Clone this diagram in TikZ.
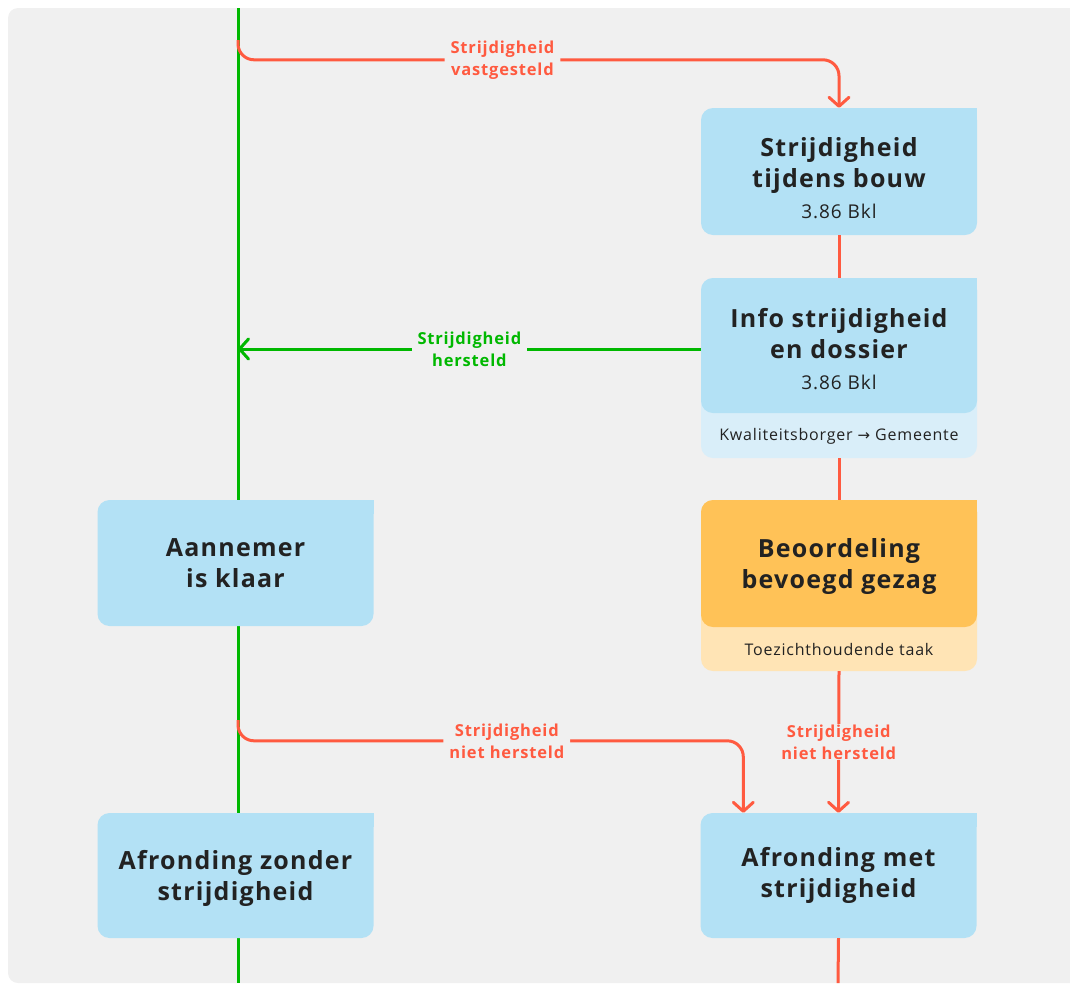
\documentclass[tikz,border=0pt]{standalone}
\usepackage{fontspec}
\setmainfont{Open Sans}[LetterSpace=5]
\newfontfamily\arrowfont{DejaVu Sans}
\usetikzlibrary{arrows.meta,calc}

\definecolor{bggray}{HTML}{F0F0F0}
\definecolor{boxblue}{HTML}{B3E1F5}
\definecolor{stripblue}{HTML}{D9EEF9}
\definecolor{boxorange}{HTML}{FFC257}
\definecolor{striporange}{HTML}{FFE4B5}
\definecolor{linered}{HTML}{FF5A40}
\definecolor{linegreen}{HTML}{00B800}
\definecolor{darktext}{HTML}{222222}

\tikzset{
  box/.style={rectangle, rounded corners=12pt, fill=boxblue, minimum width=276pt,
    inner sep=0pt, align=center, text=darktext, font=\bfseries\fontsize{25}{31}\selectfont},
  strip/.style={rectangle, rounded corners=12pt, minimum width=276pt, inner sep=0pt},
  striptext/.style={text=darktext, font=\fontsize{16}{18}\selectfont},
  lbl/.style={fill=bggray, align=center, inner xsep=6pt, inner ysep=1pt,
    font=\bfseries\fontsize{16.5}{22}\selectfont},
  redline/.style={draw=linered, line width=3pt},
  redarrow/.style={redline, -{Straight Barb[length=9pt,width=20pt,round]}},
  greenline/.style={draw=linegreen, line width=3pt},
  greenarrow/.style={greenline, -{Straight Barb[length=9pt,width=20pt,round]}}
}

\begin{document}
\begin{tikzpicture}[x=1pt, y=-1pt]
  \useasboundingbox (0,0) rectangle (1070,983);

  % background
  \begin{scope}
    \clip (0,0) rectangle (1070,983);
    \fill[bggray, rounded corners=10pt] (8,8) rectangle (1090,983);
  \end{scope}

  % main green line
  \coordinate (gtop) at (238,8);
  \coordinate (gbot) at (238,983);
  \coordinate (split1) at (238,40);
  \coordinate (split2) at (238,720);
  \coordinate (rbot) at (838,983);
  \draw[greenline] (gtop) -- (gbot);

  % right column
  \node[box, minimum height=127pt, text height=95pt] (bouw) at (839,171.5)
    {Strijdigheid\\tijdens bouw\\{\mdseries\fontsize{19}{31}\selectfont 3.86 Bkl}};
  \fill[boxblue] (bouw.north east) rectangle ++(-14pt,-14pt);

  \node[strip, fill=stripblue, minimum height=180pt] (infostrip) at (839,368) {};
  \node[box, minimum height=135pt, text height=89pt] (info) at (839,345.5)
    {Info strijdigheid\\en dossier\\{\mdseries\fontsize{19}{31}\selectfont 3.86 Bkl}};
  \fill[boxblue] (info.north east) rectangle ++(-14pt,-14pt);
  \node[striptext] (kwb) at (839,436) {Kwaliteitsborger {\arrowfont\fontsize{15}{18}\selectfont →} Gemeente};

  \node[strip, fill=striporange, minimum height=171pt] (oordstrip) at (839,585.5) {};
  \node[box, fill=boxorange, minimum height=127pt, text height=56pt] (oordeel) at (839,563.5)
    {Beoordeling\\bevoegd gezag};
  \fill[boxorange] (oordeel.north east) rectangle ++(-14pt,-14pt);
  \node[striptext] (toez) at (839,649) {Toezichthoudende taak};

  \node[box, minimum height=125pt] (afrmet) at (838.5,875.5)
    {Afronding met\\strijdigheid};
  \fill[boxblue] (afrmet.north east) rectangle ++(-14pt,-14pt);

  % left column
  \node[box, minimum height=126pt] (klaar) at (235.5,563)
    {Aannemer\\is klaar};
  \fill[boxblue] (klaar.north east) rectangle ++(-14pt,-14pt);

  \node[box, minimum height=125pt, text height=56pt] (afrzonder) at (235.5,875.5)
    {Afronding zonder\\strijdigheid};
  \fill[boxblue] (afrzonder.north east) rectangle ++(-14pt,-14pt);

  % connectors
  \draw[redarrow, rounded corners=16pt] (split1) |- node[lbl, text=linered, pos=0.72]
    {Strijdigheid\\vastgesteld} ($(bouw.north)+(0,-48)$) -- (bouw.north);
  \draw[redline] (bouw.south) -- (info.north);
  \draw[greenarrow] ([yshift=-3.5pt]info.west) -- node[lbl, text=linegreen]
    {Strijdigheid\\hersteld} ([yshift=-3.5pt]info.west -| gtop);
  \draw[redline] (infostrip.south) -- (oordeel.north);
  \draw[redarrow] (oordstrip.south) -- node[lbl, text=linered]
    {Strijdigheid\\niet hersteld} (afrmet.north);
  \draw[redarrow, rounded corners=16pt] (split2) |- node[lbl, text=linered, pos=0.766]
    {Strijdigheid\\niet hersteld} ($(afrmet.north west)+(43,-72)$) -- ($(afrmet.north west)+(43,0)$);
  \draw[redline] (afrmet.south) -- (rbot);

\end{tikzpicture}
\end{document}
